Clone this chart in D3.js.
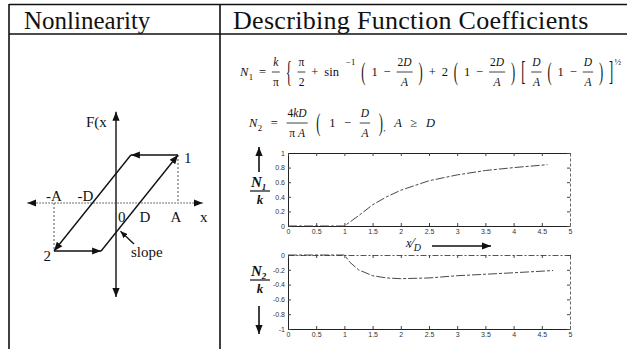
<!DOCTYPE html>
<html><head><meta charset="utf-8">
<script src="https://cdn.jsdelivr.net/npm/d3@7"></script>
<style>
html,body{margin:0;padding:0;background:#fff;}
svg{display:block;}
text{font-family:"Liberation Serif","Times New Roman",serif;fill:#111;}
.tk text{font-family:"Liberation Sans",Arial,sans-serif;fill:#333;}
</style></head><body>
<script>
const W = 627, H = 349;

// column headers
const headers = ["Nonlinearity", "Describing Function Coefficients"];

// tick values for the two coefficient plots (abscissa is A/D)
const ratioTicks = [0, 0.5, 1, 1.5, 2, 2.5, 3, 3.5, 4, 4.5, 5];
const n1Ticks = [0, 0.2, 0.4, 0.6, 0.8, 1];
const n2Ticks = [0, -0.2, -0.4, -0.6, -0.8, -1];

// N1/k versus A/D
const n1Ratio = [0, 0.5, 1, 1.25, 1.5, 1.75, 2, 2.5, 3, 3.5, 4, 4.6];
const n1Value = [0, 0, 0, 0.14, 0.29, 0.40, 0.49, 0.62, 0.70, 0.76, 0.80, 0.84];

// N2/k versus A/D
const n2Ratio = [0, 0.5, 1, 1.1, 1.25, 1.5, 1.75, 2, 2.5, 3, 3.5, 4, 4.7];
const n2Value = [0, 0, 0, -0.10, -0.20, -0.28, -0.31, -0.32, -0.31, -0.28, -0.26, -0.24, -0.21];

// backlash loop, x in units of A, F(x) in units of its peak
const loopA = 1, loopD = 0.38;
const loopSegments = [
  [[loopA, 1], [loopA - 2 * loopD, 1]],
  [[loopA - 2 * loopD, 1], [-loopA, -1]],
  [[-loopA, -1], [2 * loopD - loopA, -1]],
  [[2 * loopD - loopA, -1], [loopA, 1]]
];
const loopGuides = [
  [[loopA, 1], [loopA, 0]],
  [[-loopA, 0], [-loopA, -1]]
];

const svg = d3.select("body").append("svg").attr("width", W).attr("height", H);
svg.append("rect").attr("width", W).attr("height", H).attr("fill", "#fff");

const defs = svg.append("defs");
function arrowMarker(id, len, half) {
  defs.append("marker").attr("id", id)
    .attr("viewBox", `0 ${-half} ${len} ${2 * half}`)
    .attr("refX", len).attr("refY", 0)
    .attr("markerWidth", len).attr("markerHeight", 2 * half)
    .attr("markerUnits", "userSpaceOnUse")
    .attr("orient", "auto-start-reverse")
    .append("path").attr("d", `M0,${-half}L${len},0L0,${half}Z`).attr("fill", "#111");
}
arrowMarker("ah", 9, 3.6);
arrowMarker("ahs", 7, 3);

// ---- table rules ----
const tbl = svg.append("g").attr("stroke", "#111").attr("stroke-width", 1.6);
tbl.append("line").attr("x1", 9).attr("x2", W).attr("y1", 4.5).attr("y2", 4.5);
tbl.append("line").attr("x1", 9).attr("x2", W).attr("y1", 34).attr("y2", 34);
tbl.append("line").attr("x1", 9).attr("x2", 9).attr("y1", 4).attr("y2", H);
tbl.append("line").attr("x1", 220).attr("x2", 220).attr("y1", 4).attr("y2", H);

svg.selectAll("text.hdr").data(headers).join("text").attr("class", "hdr")
  .attr("x", (d, i) => [24, 233][i]).attr("y", 29)
  .attr("font-size", (d, i) => [25, 26][i])
  .attr("letter-spacing", (d, i) => [0, 0.3][i])
  .text(d => d);

// ---- nonlinearity sketch ----
const hx = d3.scaleLinear().domain([-1, 1]).range([54, 178]);
const hy = d3.scaleLinear().domain([-1, 1]).range([251, 155]);
const nl = svg.append("g");

nl.append("line").attr("x1", hx(0)).attr("x2", hx(0)).attr("y1", hy(-1.96)).attr("y2", hy(1.9))
  .attr("stroke", "#111").attr("stroke-width", 1.4)
  .attr("marker-start", "url(#ah)").attr("marker-end", "url(#ah)");
nl.append("line").attr("x1", hx(-1.43)).attr("x2", hx(1.4)).attr("y1", hy(0)).attr("y2", hy(0))
  .attr("stroke", "#444").attr("stroke-width", 1).attr("stroke-dasharray", "1.5,1.5")
  .attr("marker-start", "url(#ah)").attr("marker-end", "url(#ah)");

nl.selectAll("line.guide").data(loopGuides).join("line").attr("class", "guide")
  .attr("x1", d => hx(d[0][0])).attr("y1", d => hy(d[0][1]))
  .attr("x2", d => hx(d[1][0])).attr("y2", d => hy(d[1][1]))
  .attr("stroke", "#555").attr("stroke-width", 1).attr("stroke-dasharray", "2,2");

nl.selectAll("line.seg").data(loopSegments).join("line").attr("class", "seg")
  .attr("x1", d => hx(d[0][0])).attr("y1", d => hy(d[0][1]))
  .attr("x2", d => hx(d[1][0])).attr("y2", d => hy(d[1][1]))
  .attr("stroke", "#111").attr("stroke-width", 1.4).attr("marker-end", "url(#ah)");

// slope pointer, aimed at the rising branch
const slopeU = 0.04, slopeV = (slopeU - loopD) / (loopA - loopD);
nl.append("line").attr("x1", 134).attr("y1", 244).attr("x2", hx(slopeU) + 2).attr("y2", hy(slopeV) + 2)
  .attr("stroke", "#111").attr("stroke-width", 1.3).attr("marker-end", "url(#ahs)");

const nlLabels = [
  { t: "F(x", x: 86, y: 127, a: "start" },
  { t: "-A", x: hx(-loopA), y: 201, a: "middle" },
  { t: "-D", x: hx(-loopD) + 1, y: 201, a: "end" },
  { t: "0", x: hx(0) + 2, y: 222, a: "start" },
  { t: "D", x: hx(loopD), y: 222, a: "start" },
  { t: "A", x: hx(loopA) - 2, y: 222, a: "middle" },
  { t: "x", x: 200, y: 222, a: "start" },
  { t: "1", x: 184, y: 163, a: "start" },
  { t: "2", x: 51, y: 261, a: "end" },
  { t: "slope", x: 131, y: 257, a: "start" }
];
nl.selectAll("text").data(nlLabels).join("text")
  .attr("x", d => d.x).attr("y", d => d.y).attr("text-anchor", d => d.a)
  .attr("font-size", 15).text(d => d.t);

// ---- formula typesetting ----
function richText(sel, str, size, upright) {
  const t = sel.append("text").attr("font-size", size);
  str.match(/[A-Za-z]+|[^A-Za-z]+/g).forEach(run => {
    t.append("tspan").attr("font-style", (!upright && /[A-Za-z]/.test(run)) ? "italic" : "normal").text(run);
  });
  return t;
}
function typeset(g, tokens, x0, bar, width, size) {
  const items = tokens.map(tok => {
    const grp = g.append("g");
    let w = 0, gapW = 1;
    if (tok.frac) {
      const fs = size * 0.92;
      const n = richText(grp, tok.frac[0], fs).attr("text-anchor", "middle");
      const d = richText(grp, tok.frac[1], fs).attr("text-anchor", "middle");
      w = Math.max(n.node().getComputedTextLength(), d.node().getComputedTextLength()) + 2;
      n.attr("x", w / 2).attr("y", -0.45 * size);
      d.attr("x", w / 2).attr("y", 1.08 * size);
      grp.append("line").attr("x1", 0).attr("x2", w).attr("y1", 0).attr("y2", 0)
        .attr("stroke", "#111").attr("stroke-width", 0.8);
    } else if (tok.delim) {
      const inner = grp.append("g").attr("transform", `scale(1,${tok.sy})`);
      const t = inner.append("text").attr("font-size", size).attr("y", 0.3 * size).text(tok.delim);
      w = t.node().getComputedTextLength();
    } else if (tok.sup) {
      const t = richText(grp, tok.sup, size * 0.7).attr("y", -0.55 * size);
      w = t.node().getComputedTextLength(); gapW = tok.gap == null ? 0.2 : tok.gap;
    } else if (tok.sub) {
      const t = richText(grp, tok.sub, size * 0.7).attr("y", 0.6 * size);
      w = t.node().getComputedTextLength(); gapW = 0.05;
    } else {
      const t = richText(grp, tok.s, size, tok.upright).attr("y", 0.33 * size);
      w = t.node().getComputedTextLength();
    }
    return { grp, w, gapW };
  });
  const natural = d3.sum(items, d => d.w);
  const gapSum = d3.sum(items.slice(1), d => d.gapW);
  const gap = (width - natural) / gapSum;
  let x = x0;
  items.forEach((it, i) => {
    if (i > 0) x += gap * it.gapW;
    it.grp.attr("transform", `translate(${x},${bar})`);
    x += it.w;
  });
}

const n1Tokens = [
  { s: "N" }, { sub: "1" }, { s: "=" }, { frac: ["k", "π"] }, { delim: "{", sy: 2.3 },
  { frac: ["π", "2"] }, { s: "+" }, { s: "sin", upright: true }, { sup: "−1", gap: 1.2 },
  { delim: "(", sy: 2.0 }, { s: "1" }, { s: "−" }, { frac: ["2D", "A"] }, { delim: ")", sy: 2.0 },
  { s: "+" }, { s: "2" }, { delim: "(", sy: 2.0 }, { s: "1" }, { s: "−" }, { frac: ["2D", "A"] },
  { delim: ")", sy: 2.0 }, { delim: "[", sy: 2.2 }, { frac: ["D", "A"] }, { delim: "(", sy: 2.0 },
  { s: "1" }, { s: "−" }, { frac: ["D", "A"] }, { delim: ")", sy: 2.0 }, { delim: "]", sy: 2.2 },
  { sup: "½" }
];
const n2Tokens = [
  { s: "N" }, { sub: "2" }, { s: "=" }, { frac: ["4kD", "π A"] }, { delim: "(", sy: 2.0 },
  { s: "1" }, { s: "−" }, { frac: ["D", "A"] }, { delim: ")", sy: 2.0 }, { sub: "," },
  { s: "A" }, { s: "≥" }, { s: "D" }
];
const fm = svg.append("g");
typeset(fm.append("g"), n1Tokens, 240, 72, 381, 12.5);
typeset(fm.append("g"), n2Tokens, 249, 123, 186, 12.5);

// ---- coefficient plots ----
const cx = d3.scaleLinear().domain([0, 5]).range([288, 570]);
const y1 = d3.scaleLinear().domain([0, 1]).range([226, 153]);
const y2 = d3.scaleLinear().domain([-1, 0]).range([329, 255]);

function plot(yScale, yTicks, xs, ys, topDashed) {
  const g = svg.append("g");
  const [yb, yt] = yScale.range();
  const fmt = d => String(d);
  const bottom = g.append("g").attr("class", "tk").attr("transform", `translate(0,${yb})`)
    .call(d3.axisBottom(cx).tickValues(ratioTicks).tickSize(-3).tickSizeOuter(0).tickPadding(3).tickFormat(fmt));
  const left = g.append("g").attr("class", "tk").attr("transform", `translate(${cx(0)},0)`)
    .call(d3.axisLeft(yScale).tickValues(yTicks).tickSize(-3).tickSizeOuter(0).tickPadding(3).tickFormat(fmt));
  const top = g.append("g").attr("class", "tk").attr("transform", `translate(0,${yt})`)
    .call(d3.axisTop(cx).tickValues(ratioTicks).tickSize(-3).tickSizeOuter(0).tickFormat(""));
  const right = g.append("g").attr("class", "tk").attr("transform", `translate(${cx(5)},0)`)
    .call(d3.axisRight(yScale).tickValues(yTicks).tickSize(-3).tickSizeOuter(0).tickFormat(""));
  [bottom, left, top, right].forEach(a => {
    a.selectAll("text").attr("font-size", 7).attr("fill", "#333");
    a.selectAll("line").attr("stroke", "#444");
    a.select(".domain").attr("stroke", "#222").attr("stroke-width", 1);
  });
  right.select(".domain").attr("stroke", "#666").attr("stroke-dasharray", "3,2");
  if (topDashed) top.select(".domain").attr("stroke", "#555").attr("stroke-dasharray", "6,2,2,2");
  const line = d3.line().x(d => cx(d[0])).y(d => yScale(d[1]));
  g.append("path").datum(d3.zip(xs, ys)).attr("d", line)
    .attr("fill", "none").attr("stroke", "#333").attr("stroke-width", 0.9)
    .attr("stroke-dasharray", "9,2,3,2");
}
plot(y1, n1Ticks, n1Ratio, n1Value, false);
plot(y2, n2Ticks, n2Ratio, n2Value, true);

// axis labels N1/k, N2/k with direction arrows
function coefLabel(sub, yN, yBar, yK, arrow) {
  const g = svg.append("g");
  const t = g.append("text").attr("x", 251).attr("y", yN).attr("font-size", 15)
    .attr("font-weight", "bold").attr("font-style", "italic");
  t.append("tspan").text("N");
  t.append("tspan").attr("font-size", 9).attr("dy", 3).text(sub);
  g.append("line").attr("x1", 250).attr("x2", 270).attr("y1", yBar).attr("y2", yBar)
    .attr("stroke", "#111").attr("stroke-width", 1.2);
  g.append("text").attr("x", 260).attr("y", yK).attr("text-anchor", "middle").attr("font-size", 13)
    .attr("font-weight", "bold").attr("font-style", "italic").text("k");
  g.append("line").attr("x1", 259).attr("x2", 259).attr("y1", arrow[0]).attr("y2", arrow[1])
    .attr("stroke", "#111").attr("stroke-width", 1.6).attr("marker-end", "url(#ah)");
}
coefLabel("1", 187, 191, 204, [172, 147]);
coefLabel("2", 276, 280, 293, [306, 334]);

// abscissa label: x over D, then a direction arrow
const xl = svg.append("text").attr("x", 406).attr("y", 249).attr("font-size", 14).attr("font-style", "italic");
xl.append("tspan").attr("font-size", 12).attr("dy", -2).text("x");
xl.append("tspan").attr("dy", 1).text("⁄");
xl.append("tspan").attr("font-size", 10).attr("dy", 3).text("D");
svg.append("line").attr("x1", 432).attr("x2", 491).attr("y1", 246).attr("y2", 246)
  .attr("stroke", "#111").attr("stroke-width", 1.5).attr("marker-end", "url(#ah)");
</script>
</body></html>
